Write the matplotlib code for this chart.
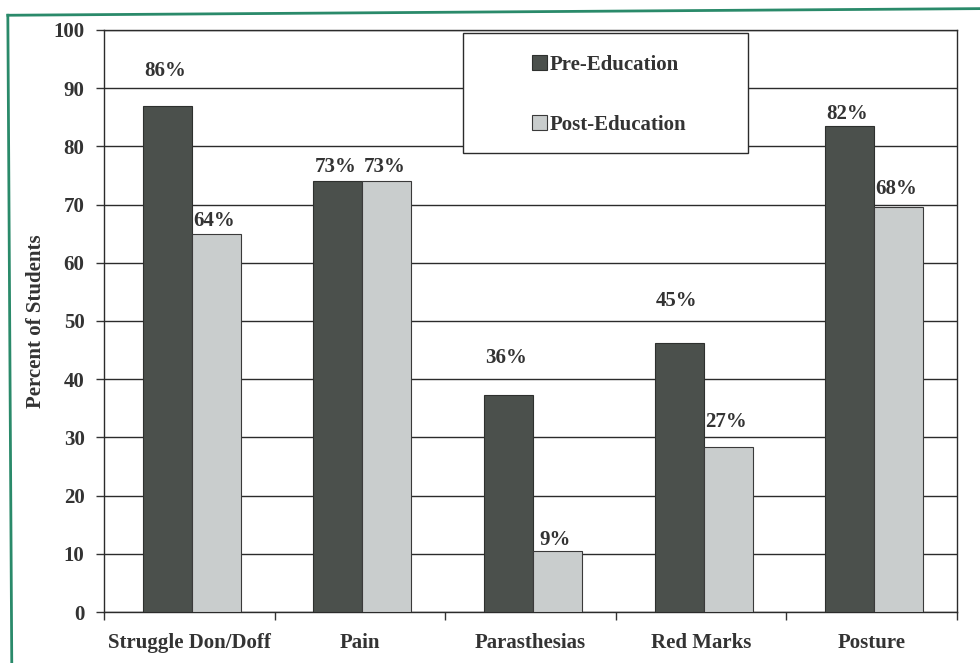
import numpy as np
import matplotlib
matplotlib.use("Agg")
import matplotlib.pyplot as plt
from matplotlib.patches import Rectangle
from matplotlib.lines import Line2D

# Data
categories = ["Struggle Don/Doff", "Pain", "Parasthesias", "Red Marks", "Posture"]
pre_edu = [87, 74, 37.2, 46.3, 83.5]
post_edu = [65, 74, 10.5, 28.3, 69.5]
pre_labels = ["86%", "73%", "36%", "45%", "82%"]
post_labels = ["64%", "73%", "9%", "27%", "68%"]
yticks = [0, 10, 20, 30, 40, 50, 60, 70, 80, 90, 100]

# label offsets above bar tops, in points (as placed in the original)
pre_off = [25, 10, 27, 30, 9]
post_off = [9, 10, 8, 18, 13]

DARK = "#4b504c"
LIGHT = "#c9cdcd"
INK = "#333333"
GREEN = "#2a8a6a"

plt.rcParams['font.family'] = ['Liberation Serif', 'DejaVu Serif']
plt.rcParams['font.weight'] = 'bold'
plt.rcParams['text.color'] = INK

fig = plt.figure(figsize=(9.8, 6.63), dpi=100)
ax = fig.add_axes([0.1061, 0.0769, 0.8704, 0.8779])

x = np.arange(len(categories))
w = 0.287
shift = 0.015
b1 = ax.bar(x + shift - w / 2, pre_edu, w, color=DARK, edgecolor="#2e302e",
            linewidth=0.8, zorder=3, label="Pre-Education")
b2 = ax.bar(x + shift + w / 2, post_edu, w, color=LIGHT, edgecolor="#3a3a3a",
            linewidth=0.8, zorder=3, label="Post-Education")

for i in range(len(categories)):
    ax.annotate(pre_labels[i], (x[i] - w / 2, pre_edu[i]), xytext=(0, pre_off[i]),
                textcoords="offset points", ha="center", va="center",
                fontsize=15, fontweight="bold", color=INK)
    ax.annotate(post_labels[i], (x[i] + w / 2, post_edu[i]), xytext=(0, post_off[i]),
                textcoords="offset points", ha="center", va="center",
                fontsize=15, fontweight="bold", color=INK)

ax.set_xlim(-0.5, 4.5)
ax.set_ylim(0, 100)
ax.set_yticks(yticks)
ax.set_yticklabels([str(t) for t in yticks], fontsize=15, fontweight="bold", color=INK)
ax.yaxis.grid(True, color="#2b2b2b", linewidth=1.0, zorder=0)
ax.set_axisbelow(True)

ax.set_xticks(x)
ax.set_xticklabels(categories, fontsize=15, fontweight="bold", color=INK)
ax.set_xticks(np.arange(-0.5, 5, 1), minor=True)
ax.tick_params(axis="x", which="major", length=0, pad=15)
ax.tick_params(axis="x", which="minor", length=6, width=1, direction="out", color=INK)
ax.tick_params(axis="y", length=6, width=1, direction="out", color=INK, pad=8)

for s in ax.spines.values():
    s.set_color("#2b2b2b")
    s.set_linewidth(1.0)

ax.set_ylabel("Percent of Students", fontsize=15, fontweight="bold", color=INK)
ax.yaxis.set_label_coords(-0.068, 0.5)

# legend box
ax.add_patch(Rectangle((0.421, 0.789), 0.334, 0.206, transform=ax.transAxes,
                       facecolor="white", edgecolor="#2b2b2b", linewidth=1.0,
                       zorder=5))
leg = ax.legend(loc="upper left", bbox_to_anchor=(0.502, 0.957), frameon=False,
                fontsize=15, handlelength=0.7, handleheight=0.7,
                handletextpad=0.15, labelspacing=1.9, borderpad=0,
                borderaxespad=0)
leg.set_zorder(6)
for t in leg.get_texts():
    t.set_color(INK)

# green outer border of the scanned page
fig.add_artist(Line2D([0.008, 1.0], [0.977, 0.987], color=GREEN, linewidth=2,
                      transform=fig.transFigure))
fig.add_artist(Line2D([0.008, 0.012], [0.977, 0.0], color=GREEN, linewidth=2,
                      transform=fig.transFigure))

fig.savefig("out.png", dpi=100)
